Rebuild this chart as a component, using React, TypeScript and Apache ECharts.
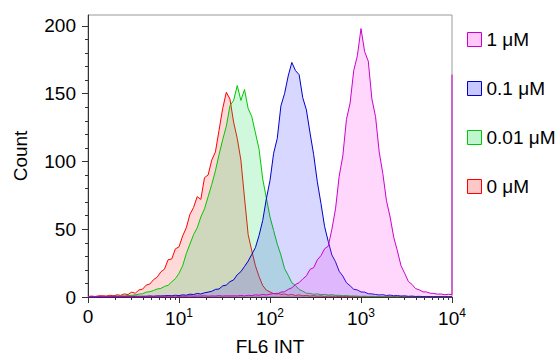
import React, { useEffect, useRef } from 'react';
import * as echarts from 'echarts';

// Histogram bins: bin k sits at k * BIN_STEP decades on the log axis (0 .. 4 decades)
const BIN_STEP = 0.04;

const SERIES_NAMES = ['0 μM', '0.01 μM', '0.1 μM', '1 μM'];
const LEGEND_ORDER = ['1 μM', '0.1 μM', '0.01 μM', '0 μM'];

// Counts per bin (101 bins)
const counts_0uM = [
  0.4, 0.6, 0.3, 0.8, 1.0, 0.6, 1.3, 0.9, 1.6, 1.2,
  2.3, 1.8, 3.6, 2.8, 5.2, 5.8, 8.8, 9.6, 12.8, 14.6,
  18.5, 20.5, 27.5, 28, 35.5, 37, 45, 51, 61, 66,
  74, 72, 88, 90, 101, 107, 123, 139, 151, 146,
  129, 117, 101, 73, 46, 34, 23, 15, 8.5, 5,
  3.8, 2.4, 2.8, 1.9, 2.2, 1.4, 1.9, 1.1, 1.6, 0.9,
  1.2, 0.7, 1.0, 0.6, 0.8, 0.4, 0.7, 0.5, 0.6, 0.3,
  0.5, 0.3, 0.4, 0.2, 0.4, 0.2, 0.3, 0.2, 0.3, 0.1,
  0.2, 0.1, 0.2, 0.1, 0.2, 0.1, 0.1, 0.2, 0.1, 0.1,
  0.1, 0.2, 0.1, 0.1, 0.1, 0.2, 0.1, 0.1, 0.1, 0.1, 0.1,
];

const counts_001uM = [
  0.2, 0.3, 0.2, 0.4, 0.3, 0.5, 0.4, 0.6, 0.5, 0.8,
  0.7, 1.1, 1.2, 1.6, 2.1, 2.4, 3.6, 3.9, 4.8, 5.9,
  6.3, 7.8, 8.6, 11.2, 13.5, 17.5, 23, 32, 39, 46,
  51, 59, 65, 74, 83, 93, 105, 116, 126, 141,
  145, 156, 145, 153, 139, 133, 121, 109, 87, 73,
  59, 49, 39, 31, 21, 16, 10.5, 8.5, 5.5, 4.3,
  2.8, 2.6, 2.0, 2.3, 1.7, 1.9, 1.4, 1.7, 1.2, 1.3,
  0.9, 1.1, 0.7, 0.8, 0.6, 0.5, 0.6, 0.4, 0.5, 0.3,
  0.4, 0.3, 0.3, 0.2, 0.3, 0.2, 0.2, 0.3, 0.2, 0.1,
  0.2, 0.1, 0.2, 0.1, 0.1, 0.2, 0.1, 0.1, 0.1, 0.1, 0.1,
];

const counts_01uM = [
  0.1, 0.2, 0.1, 0.2, 0.1, 0.2, 0.2, 0.3, 0.2, 0.3,
  0.3, 0.4, 0.3, 0.4, 0.5, 0.4, 0.5, 0.7, 0.5, 0.8,
  0.7, 0.9, 1.1, 0.9, 1.3, 1.0, 1.6, 1.3, 2.1, 1.8,
  2.6, 2.2, 3.1, 3.6, 4.2, 5.6, 5.9, 8.2, 8.8, 11.3,
  12.6, 16.4, 18.7, 22.5, 26.5, 31.5, 36.5, 45.5, 56.5, 72.5,
  86, 106, 117, 141, 150, 163, 173, 167, 164, 147,
  138, 121, 105, 85, 69, 52, 41, 31, 26, 19,
  15.5, 10.5, 8.3, 5.7, 5.2, 3.7, 3.6, 2.4, 2.3, 1.8,
  1.5, 1.7, 1.1, 1.4, 0.9, 1.1, 0.7, 0.9, 0.5, 0.7,
  0.4, 0.5, 0.3, 0.4, 0.3, 0.2, 0.3, 0.2, 0.2, 0.2, 0.2,
];

const counts_1uM = [
  0.3, 0.5, 0.4, 0.6, 0.3, 0.5, 0.4, 0.6, 0.5, 0.4,
  0.6, 0.4, 0.5, 0.7, 0.4, 0.6, 0.5, 0.7, 0.5, 0.6,
  0.8, 0.5, 0.7, 0.6, 0.8, 0.5, 0.7, 0.6, 0.9, 0.6,
  0.8, 0.7, 0.9, 0.6, 0.8, 0.7, 1.0, 0.7, 0.9, 0.8,
  0.9, 0.8, 1.1, 0.8, 1.3, 1.0, 1.6, 1.3, 1.9, 1.5,
  2.1, 2.6, 2.2, 3.6, 3.9, 5.6, 6.8, 9.2, 10.6, 13.3,
  15.6, 20.4, 21.6, 27.4, 30.5, 35.6, 37.5, 50, 65, 89,
  104, 131, 143, 167, 178, 198, 181, 174, 146, 133,
  107, 91, 71, 59, 44, 34, 23, 17.5, 11.5, 9.3,
  6.2, 5.3, 3.8, 3.7, 2.8, 2.6, 2.1, 2.2, 1.7, 2.0, 1.8,
];
// off-scale (overflow) events piled in the last channel of the 1 μM sample
const OVERFLOW_1uM = 164;

const X_MAJOR = [0, 1, 2, 3, 4];
const Y_MAJOR = [0, 50, 100, 150, 200];
const Y_MINOR = [10, 20, 30, 40, 60, 70, 80, 90, 110, 120, 130, 140, 160, 170, 180, 190];
const LOG_SUBDIVS = [2, 3, 4, 5, 6, 7, 8, 9];

const LINE_COLORS = ['#ff0000', '#00c800', '#0000cc', '#cc00cc'];
const FILL_COLORS = [
  'rgba(255,0,0,0.22)',
  'rgba(0,220,70,0.27)',
  'rgba(50,50,255,0.28)',
  'rgba(255,50,240,0.28)',
];
const LEGEND_FILLS = ['#ffc8c8', '#bff5cf', '#c8c8ff', '#ffc8f8'];

const FONT = '"Liberation Sans", Arial, sans-serif';
const FS = 19;

export default function App() {
  const ref = useRef<HTMLDivElement>(null);
  useEffect(() => {
    document.body.style.margin = '0';
    if (!ref.current) return;
    const chart = echarts.init(ref.current, undefined, { renderer: 'svg' });

    const allCounts = [counts_0uM, counts_001uM, counts_01uM, counts_1uM];
    const toPairs = (arr: number[]) => arr.map((c, k) => [k * BIN_STEP, c]);

    const xMinor: number[] = [];
    for (let d = 0; d < 4; d++) {
      for (const s of LOG_SUBDIVS) xMinor.push(d + Math.log10(s));
    }

    const series = allCounts.map((arr, i) => {
      const data = toPairs(arr);
      if (i === 3) data.push([4, OVERFLOW_1uM]);
      return {
        name: SERIES_NAMES[i],
        type: 'line',
        data,
        symbol: 'none',
        showSymbol: false,
        silent: true,
        xAxisIndex: 0,
        yAxisIndex: 0,
        lineStyle: { color: LINE_COLORS[i], width: 1 },
        itemStyle: { color: LINE_COLORS[i] },
        areaStyle: { color: FILL_COLORS[i], origin: 'start' },
        z: 2 + i,
      };
    });

    const legendData = LEGEND_ORDER.map((name) => {
      const i = SERIES_NAMES.indexOf(name);
      return {
        name,
        icon: 'rect',
        itemStyle: { color: LEGEND_FILLS[i], borderColor: LINE_COLORS[i], borderWidth: 1 },
      };
    });

    chart.setOption({
      animation: false,
      textStyle: { fontFamily: FONT },
      grid: {
        left: 88,
        right: 108,
        top: 15,
        bottom: 63,
        show: true,
        borderColor: '#999',
        borderWidth: 1,
        backgroundColor: 'transparent',
        containLabel: false,
        outerBoundsMode: 'none',
      },
      legend: {
        orient: 'vertical',
        left: 462,
        top: 25,
        itemWidth: 14,
        itemHeight: 14,
        itemGap: 30,
        itemTextGap: 10,
        data: legendData,
        textStyle: { fontSize: FS, color: '#000', fontFamily: FONT },
        selectedMode: false,
      },
      xAxis: [
        {
          type: 'value',
          min: 0,
          max: 4,
          interval: 1,
          position: 'bottom',
          name: 'FL6 INT',
          nameLocation: 'middle',
          nameGap: 40,
          nameTextStyle: { fontSize: FS, color: '#000', fontFamily: FONT },
          axisLine: { show: true, lineStyle: { color: '#333', width: 1 } },
          axisTick: { show: true, length: 6, customValues: X_MAJOR, lineStyle: { color: '#333' } },
          axisLabel: {
            customValues: X_MAJOR,
            margin: 10,
            fontSize: FS,
            color: '#000',
            fontFamily: FONT,
            formatter: (v: number) => (v === 0 ? '0' : `{b|10}{s|${v}}`),
            rich: {
              b: { fontSize: FS, color: '#000', fontFamily: FONT, lineHeight: 22 },
              s: { fontSize: 12, color: '#000', fontFamily: FONT, verticalAlign: 'top', lineHeight: 14 },
            },
          },
          splitLine: { show: false },
        },
        {
          type: 'value',
          min: 0,
          max: 4,
          position: 'bottom',
          axisLine: { show: false },
          axisLabel: { show: false },
          axisTick: { show: true, length: 3, customValues: xMinor, lineStyle: { color: '#333' } },
          splitLine: { show: false },
        },
      ],
      yAxis: [
        {
          type: 'value',
          min: 0,
          max: 208,
          position: 'left',
          name: 'Count',
          nameLocation: 'middle',
          nameGap: 58,
          nameTextStyle: { fontSize: FS, color: '#000', fontFamily: FONT },
          axisLine: { show: true, lineStyle: { color: '#333', width: 1 } },
          axisTick: { show: true, length: 6, customValues: Y_MAJOR, lineStyle: { color: '#333' } },
          axisLabel: { customValues: Y_MAJOR, margin: 12, fontSize: FS, color: '#000', fontFamily: FONT },
          splitLine: { show: false },
        },
        {
          type: 'value',
          min: 0,
          max: 208,
          position: 'left',
          axisLine: { show: false },
          axisLabel: { show: false },
          axisTick: { show: true, length: 3, customValues: Y_MINOR, lineStyle: { color: '#333' } },
          splitLine: { show: false },
        },
      ],
      series,
    });
    return () => chart.dispose();
  }, []);
  return <div ref={ref} style={{ width: 560, height: 360 }} />;
}
